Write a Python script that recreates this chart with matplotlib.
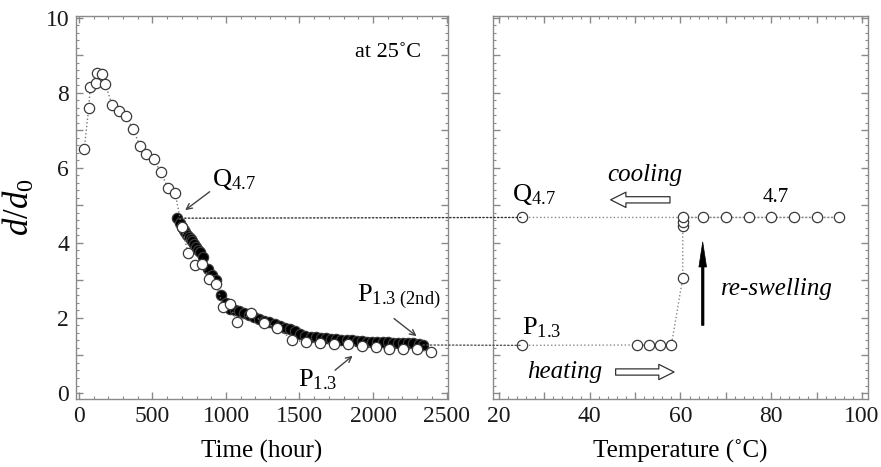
import matplotlib
matplotlib.use('Agg')
import matplotlib.pyplot as plt
from matplotlib.ticker import MultipleLocator, FuncFormatter
from matplotlib.patches import ConnectionPatch

plt.rcParams['font.family'] = ['Liberation Serif', 'DejaVu Serif']
plt.rcParams['mathtext.fontset'] = 'custom'
plt.rcParams['mathtext.rm'] = 'Liberation Serif'
plt.rcParams['mathtext.it'] = 'Liberation Serif:italic'

# ---- data: left panel (time at 25 C) ----
time_open = [36, 66, 77, 113, 124, 160, 178, 226, 273, 318, 366, 415, 459, 508, 556,
             605, 655, 698, 743, 790, 837, 887, 933, 980, 1025, 1073, 1170, 1260, 1350,
             1452, 1545, 1637, 1734, 1829, 1922, 2017, 2112, 2207, 2299, 2394]
d_open = [6.5, 7.6, 8.15, 8.27, 8.54, 8.5, 8.24, 7.68, 7.53, 7.39, 7.05, 6.59, 6.36, 6.23,
          5.89, 5.47, 5.32, 4.43, 3.72, 3.40, 3.44, 3.04, 2.9, 2.3, 2.38, 1.88, 2.12, 1.86,
          1.74, 1.42, 1.35, 1.34, 1.31, 1.31, 1.24, 1.22, 1.16, 1.16, 1.16, 1.1]

time_filled = [669, 685, 700, 712, 724, 736, 748, 760, 772, 785, 798, 812, 826, 845, 876,
               905, 933, 966, 1000, 1030, 1060, 1090, 1120, 1155, 1190, 1225, 1260, 1295,
               1330, 1365, 1400, 1435, 1470, 1505, 1540, 1575, 1610, 1645, 1680, 1715, 1750,
               1785, 1820, 1855, 1890, 1925, 1960, 1995, 2030, 2065, 2100, 2135, 2170, 2205,
               2240, 2275, 2310, 2340]
d_filled = [4.66, 4.52, 4.42, 4.35, 4.28, 4.22, 4.15, 4.10, 4.04, 3.97, 3.90, 3.82, 3.75,
            3.62, 3.30, 3.15, 3.02, 2.62, 2.40, 2.25, 2.20, 2.18, 2.14, 2.08, 2.02, 1.98,
            1.93, 1.88, 1.83, 1.78, 1.74, 1.71, 1.66, 1.58, 1.52, 1.49, 1.48, 1.47, 1.46,
            1.45, 1.43, 1.42, 1.41, 1.40, 1.39, 1.38, 1.37, 1.37, 1.36, 1.35, 1.35, 1.34,
            1.33, 1.33, 1.32, 1.32, 1.31, 1.28]

# ---- data: right panel (temperature cycle) ----
temp_cycle = [25, 50.5, 53, 55.5, 58, 60.5, 60.5, 60.5, 60.5, 65, 70, 75, 80, 85, 90, 95, 25]
d_cycle = [1.27, 1.28, 1.27, 1.27, 1.29, 3.07, 4.45, 4.57, 4.68, 4.68, 4.68, 4.68, 4.68,
           4.68, 4.68, 4.68, 4.68]

q_label = 'Q$_{4.7}$'
p_label = 'P$_{1.3}$'
p2_label = 'P$_{1.3\\ \\mathrm{(2nd)}}$'

fig = plt.figure(figsize=(8.81, 4.67), dpi=100)
ax1 = fig.add_axes([0.0863, 0.1456, 0.4222, 0.8201])
ax2 = fig.add_axes([0.5596, 0.1456, 0.4256, 0.8201])

spine_c = '#8a8a8a'
edge_c = '#3a3a3a'
mk = dict(marker='o', markersize=7.4, markeredgewidth=0.9, markeredgecolor=edge_c)

# left panel
ax1.plot(time_open, d_open, linestyle=':', color='#777777', linewidth=1.0,
         markerfacecolor='white', zorder=3, **mk)
ax1.plot(time_filled, d_filled, linestyle='none', markerfacecolor='black', zorder=2, **mk)

ax1.set_xlim(-20, 2510)
ax1.set_ylim(-0.16, 10.05)
ax1.xaxis.set_major_locator(MultipleLocator(500))
ax1.xaxis.set_minor_locator(MultipleLocator(100))
ax1.yaxis.set_major_locator(MultipleLocator(1))
ax1.yaxis.set_minor_locator(MultipleLocator(0.2))
ax1.yaxis.set_major_formatter(FuncFormatter(lambda v, p: '%d' % v if int(round(v)) % 2 == 0 else ''))

ax1.set_xlabel('Time (hour)', fontsize=18, labelpad=9)
ax1.set_ylabel('$d/d_0$', fontsize=25, labelpad=6)

ax1.text(2100, 9.09, 'at 25\u02daC', fontsize=16, ha='center', va='center')
ax1.text(905, 5.68, q_label, fontsize=19, ha='left', va='center')
ax1.annotate('', xy=(707, 4.83), xytext=(904, 5.41),
             arrowprops=dict(arrowstyle='->', color='#444444', lw=1.0))
ax1.text(1890, 2.56, p2_label, fontsize=19, ha='left', va='center')
ax1.annotate('', xy=(2311, 1.47), xytext=(2128, 2.03),
             arrowprops=dict(arrowstyle='->', color='#444444', lw=1.0))
ax1.text(1489, 0.35, p_label, fontsize=19, ha='left', va='center')
ax1.annotate('', xy=(1876, 1.04), xytext=(1727, 0.56),
             arrowprops=dict(arrowstyle='->', color='#444444', lw=1.0))

# right panel
ax2.plot(temp_cycle, d_cycle, linestyle=':', color='#888888', linewidth=1.0,
         markerfacecolor='white', zorder=3, **mk)
ax2.set_xlim(18.7, 101.3)
ax2.set_ylim(-0.16, 10.05)
ax2.xaxis.set_major_locator(MultipleLocator(10))
ax2.xaxis.set_minor_locator(MultipleLocator(2))
ax2.xaxis.set_major_formatter(FuncFormatter(lambda v, p: '%d' % v if int(round(v)) % 20 == 0 else ''))
ax2.yaxis.set_major_locator(MultipleLocator(1))
ax2.yaxis.set_minor_locator(MultipleLocator(0.2))
ax2.yaxis.set_major_formatter(FuncFormatter(lambda v, p: ''))
ax2.set_xlabel('Temperature (\u02daC)', fontsize=18, labelpad=9)

ax2.text(22.9, 5.28, q_label, fontsize=19, ha='left', va='center')
ax2.text(52.2, 5.8, 'cooling', fontsize=18, style='italic', ha='center', va='center')
ax2.annotate('', xy=(44.0, 5.15), xytext=(58.3, 5.15),
             arrowprops=dict(arrowstyle='simple,head_length=1.1,head_width=1.1,tail_width=0.45',
                             fc='white', ec='#333333', lw=0.9))
ax2.text(81, 5.22, '4.7', fontsize=15, ha='center', va='center')
ax2.text(25.1, 1.75, p_label, fontsize=19, ha='left', va='center')
ax2.text(34.5, 0.56, 'heating', fontsize=18, style='italic', ha='center', va='center')
ax2.annotate('', xy=(59.2, 0.56), xytext=(45.1, 0.56),
             arrowprops=dict(arrowstyle='simple,head_length=1.1,head_width=1.1,tail_width=0.45',
                             fc='white', ec='#333333', lw=0.9))
ax2.annotate('', xy=(64.9, 4.1), xytext=(64.9, 1.73),
             arrowprops=dict(arrowstyle='simple,head_length=1.8,head_width=0.55,tail_width=0.18',
                             fc='black', ec='black', lw=0.5))
ax2.text(81.2, 2.77, 're-swelling', fontsize=18, style='italic', ha='center', va='center')

for ax in (ax1, ax2):
    for s in ax.spines.values():
        s.set_color(spine_c)
        s.set_linewidth(1.0)
    ax.tick_params(which='both', direction='in', top=True, right=True, colors=spine_c,
                   labelcolor='#1a1a1a')
    ax.tick_params(which='major', length=5, width=1.0, labelsize=17, pad=5)
    ax.tick_params(which='minor', length=2.5, width=0.8)

# lines linking the two panels
con1 = ConnectionPatch(xyA=(time_filled[0], d_filled[0]), coordsA=ax1.transData,
                       xyB=(temp_cycle[-1], d_cycle[-1]), coordsB=ax2.transData,
                       linestyle=':', color='#333333', linewidth=1.0, zorder=1)
fig.add_artist(con1)
con2 = ConnectionPatch(xyA=(time_filled[-1], d_filled[-1]), coordsA=ax1.transData,
                       xyB=(temp_cycle[0], d_cycle[0]), coordsB=ax2.transData,
                       linestyle=':', color='#555555', linewidth=1.0, zorder=1)
fig.add_artist(con2)

fig.savefig('out.png', dpi=100)
